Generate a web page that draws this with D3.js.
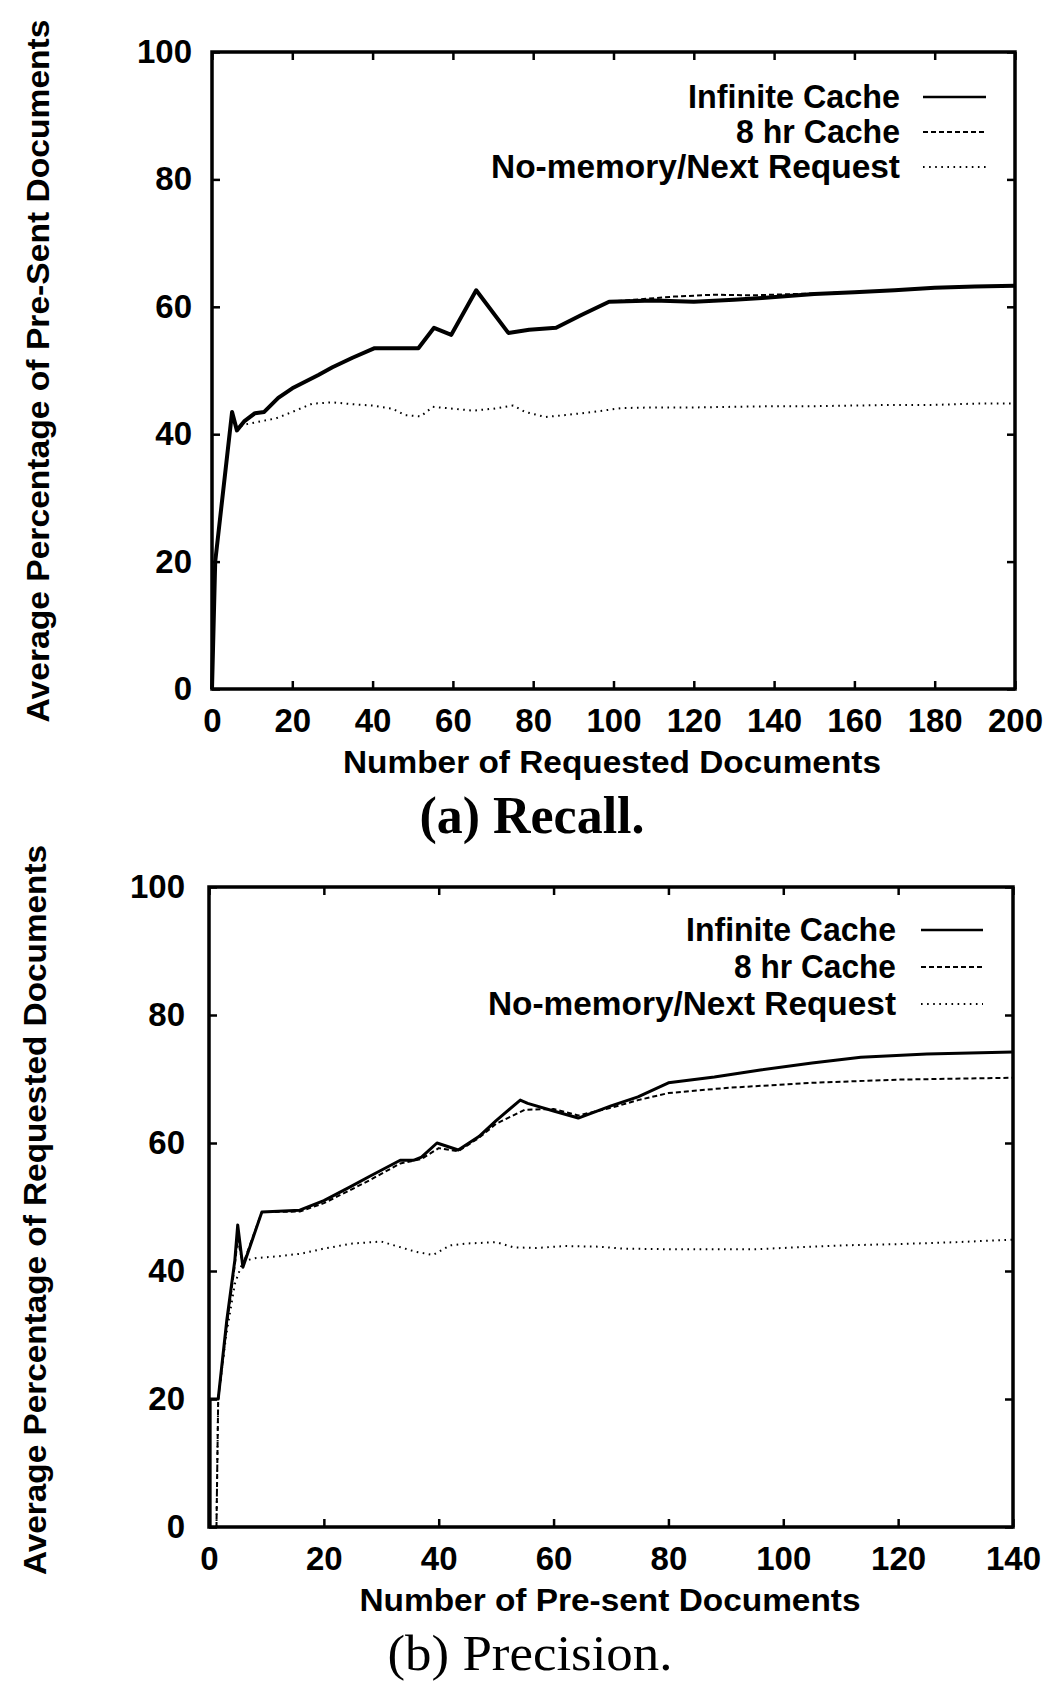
<!DOCTYPE html>
<html lang="en">
<head>
    <meta charset="UTF-8">
    <title>Recall and Precision</title>
    <script src="https://d3js.org/d3.v7.min.js"></script>
    <style>
        body { margin: 0; background: #fff; }
        svg { display: block; }
        .sans { font-family: "Liberation Sans", Arial, Helvetica, sans-serif; font-weight: bold; fill: #000; }
        .serif { font-family: "Liberation Serif", "Times New Roman", serif; fill: #000; }
    </style>
</head>
<body>
    <div id="container"></div>

    <script>
        // series labels
        const seriesNames = ["Infinite Cache", "8 hr Cache", "No-memory/Next Request"];

        // (a) Recall: [number of requested documents, average %]
        const recallInfinite = [
            [0, 0], [0.8, 20], [5, 43.5], [6.2, 40.6], [8, 42], [10.7, 43.3], [13, 43.5], [16.5, 45.7],
            [20, 47.2], [26.5, 49.3], [30, 50.5], [35, 52], [40.5, 53.5], [51.4, 53.5], [55.3, 56.7],
            [59.6, 55.6], [65.8, 62.6], [73.8, 55.9], [79, 56.4], [85.7, 56.7], [92, 58.7], [98.9, 60.8],
            [110, 61], [120, 60.8], [130, 61.1], [137, 61.4], [150, 62], [160, 62.3], [170, 62.6],
            [180, 63], [190, 63.2], [200, 63.3]
        ];
        const recall8hr = [
            [0, 0], [0.8, 20], [5, 43.5], [6.2, 40.6], [8, 42], [10.7, 43.3], [13, 43.5], [16.5, 45.7],
            [20, 47.2], [26.5, 49.3], [30, 50.5], [35, 52], [40.5, 53.5], [51.4, 53.5], [55.3, 56.7],
            [59.6, 55.6], [65.8, 62.6], [73.8, 55.9], [79, 56.4], [85.7, 56.7], [92, 58.7], [98.9, 60.8],
            [105, 61.1], [115, 61.6], [125, 61.9], [135, 61.8], [145, 62], [160, 62.3], [170, 62.6],
            [180, 63], [190, 63.2], [200, 63.3]
        ];
        const recallNoMemory = [
            [0, 0], [0.8, 20], [5, 43.5], [6.2, 41], [8, 41.5], [12, 42], [16, 42.5], [20, 43.5],
            [25, 44.8], [30, 45], [35, 44.7], [40, 44.5], [45, 44], [48, 43], [52, 42.8], [55, 44.3],
            [60, 44], [65, 43.7], [70, 44], [75, 44.5], [78, 43.5], [83, 42.7], [88, 43], [95, 43.5],
            [102, 44.1], [110, 44.2], [120, 44.2], [130, 44.3], [140, 44.4], [150, 44.4], [160, 44.5],
            [170, 44.6], [180, 44.6], [190, 44.8], [200, 44.8]
        ];

        // (b) Precision: [number of pre-sent documents, average %]
        const precisionInfinite = [
            [0.2, 0], [0.2, 20], [1.6, 20], [3.1, 32.3], [4.5, 41.7], [5, 47.2], [5.9, 40.6], [9.2, 49.2],
            [15.8, 49.5], [20, 51], [24.5, 53.1], [28, 54.8], [33.3, 57.3], [35.6, 57.3], [37, 57.8],
            [39.7, 60], [43.4, 58.9], [47, 61], [50, 63.5], [54.2, 66.7], [55.5, 66.2], [60, 65],
            [64.3, 63.9], [70, 65.8], [74.7, 67.2], [80, 69.4], [88, 70.3], [96, 71.4], [105, 72.5],
            [113.5, 73.4], [125, 73.9], [140, 74.2]
        ];
        const precision8hr = [
            [1.3, 0], [1.6, 20], [3.1, 31.5], [4.5, 41], [5, 45], [5.9, 41], [9.2, 49.2], [15.8, 49.3],
            [20, 50.6], [24.5, 52.6], [28, 54.2], [33.3, 56.8], [37, 57.5], [40, 59.2], [43.4, 58.7],
            [47, 60.8], [50, 63], [55, 65.2], [60, 65.3], [64.3, 64.3], [70, 65.5], [74.7, 66.7],
            [80, 67.8], [90, 68.6], [104.8, 69.4], [120, 69.9], [140, 70.2]
        ];
        const precisionNoMemory = [
            [1.3, 0], [1.6, 20], [3, 30], [4.5, 38], [5.9, 41.5], [8, 42], [12, 42.3], [16, 42.7],
            [20, 43.5], [25, 44.3], [30, 44.6], [33, 43.8], [36, 43], [39, 42.5], [42, 44], [45, 44.3],
            [50, 44.5], [53, 43.7], [57, 43.6], [62, 43.9], [68, 43.8], [72, 43.5], [80, 43.4],
            [88, 43.4], [95, 43.4], [100, 43.6], [110, 44], [120, 44.2], [130, 44.5], [140, 44.9]
        ];

        // ticks
        const yTicks = [0, 20, 40, 60, 80, 100];
        const recallXTicks = [0, 20, 40, 60, 80, 100, 120, 140, 160, 180, 200];
        const precisionXTicks = [0, 20, 40, 60, 80, 100, 120, 140];

        const width = 1056;
        const height = 1683;

        const svg = d3.select("#container").append("svg")
            .attr("width", width)
            .attr("height", height);

        const dashes = [null, "5,3", "1.6,4.5"];

        function drawPanel(p) {
            const x = d3.scaleLinear().domain(p.xDomain).range([p.left, p.right]);
            const y = d3.scaleLinear().domain([0, 100]).range([p.bottom, p.top]);
            const g = svg.append("g");

            // series
            const line = d3.line().x(d => x(d[0])).y(d => y(d[1]));
            p.series.forEach((s, i) => {
                g.append("path")
                    .datum(s)
                    .attr("d", line)
                    .attr("fill", "none")
                    .attr("stroke", "#000")
                    .attr("stroke-width", i === 0 ? p.mainWidth : 2)
                    .attr("stroke-linejoin", "round")
                    .attr("stroke-dasharray", dashes[i]);
            });

            // inward ticks on all four sides
            const tk = 8;
            g.append("g").attr("transform", `translate(0,${p.bottom})`)
                .call(d3.axisBottom(x).tickValues(p.xTicks).tickSize(-tk).tickPadding(20))
                .call(a => a.select(".domain").remove());
            g.append("g").attr("transform", `translate(0,${p.top})`)
                .call(d3.axisTop(x).tickValues(p.xTicks).tickSize(-tk).tickFormat(""))
                .call(a => a.select(".domain").remove());
            g.append("g").attr("transform", `translate(${p.left},0)`)
                .call(d3.axisLeft(y).tickValues(yTicks).tickSize(-tk).tickPadding(p.yPad))
                .call(a => a.select(".domain").remove());
            g.append("g").attr("transform", `translate(${p.right},0)`)
                .call(d3.axisRight(y).tickValues(yTicks).tickSize(-tk).tickFormat(""))
                .call(a => a.select(".domain").remove());

            g.selectAll(".tick line").attr("stroke", "#000").attr("stroke-width", 2.5);
            g.selectAll(".tick text")
                .attr("class", "sans")
                .style("font-size", "33px")
                .attr("fill", "#000");

            // frame
            g.append("rect")
                .attr("x", p.left).attr("y", p.top)
                .attr("width", p.right - p.left).attr("height", p.bottom - p.top)
                .attr("fill", "none").attr("stroke", "#000").attr("stroke-width", 3.5);

            // axis titles
            g.append("text").attr("class", "sans")
                .attr("x", p.xTitle[0]).attr("y", p.xTitle[1])
                .attr("text-anchor", "middle")
                .attr("textLength", p.xTitle[2]).attr("lengthAdjust", "spacingAndGlyphs")
                .style("font-size", "32px")
                .text(p.xLabel);
            g.append("text").attr("class", "sans")
                .attr("transform", `translate(${p.yTitle[0]},${p.yTitle[1]}) rotate(-90)`)
                .attr("text-anchor", "middle")
                .attr("textLength", p.yTitle[2]).attr("lengthAdjust", "spacingAndGlyphs")
                .style("font-size", "32px")
                .text(p.yLabel);

            // legend
            seriesNames.forEach((name, i) => {
                const ly = p.legend.y + i * p.legend.step;
                g.append("text").attr("class", "sans")
                    .attr("x", p.legend.x).attr("y", ly + 11)
                    .attr("text-anchor", "end")
                    .attr("textLength", p.legend.widths[i]).attr("lengthAdjust", "spacingAndGlyphs")
                    .style("font-size", "33px")
                    .text(name);
                g.append("line")
                    .attr("x1", p.legend.x0).attr("x2", p.legend.x1)
                    .attr("y1", ly).attr("y2", ly)
                    .attr("stroke", "#000")
                    .attr("stroke-width", i === 0 ? 2.5 : 2)
                    .attr("stroke-dasharray", dashes[i]);
            });

            // caption
            svg.append("text").attr("class", "serif")
                .attr("x", p.caption[0]).attr("y", p.caption[1])
                .attr("text-anchor", "middle")
                .attr("textLength", p.caption[2]).attr("lengthAdjust", "spacingAndGlyphs")
                .style("font-size", p.caption[3] + "px")
                .style("font-weight", p.captionBold ? "bold" : "normal")
                .text(p.captionText);
        }

        drawPanel({
            left: 212, right: 1015, top: 52, bottom: 689,
            xDomain: [0, 200], xTicks: recallXTicks, yPad: 20, mainWidth: 4,
            series: [recallInfinite, recall8hr, recallNoMemory],
            xLabel: "Number of Requested Documents", xTitle: [612, 773, 538],
            yLabel: "Average Percentage of Pre-Sent Documents", yTitle: [49, 371, 703],
            legend: { x: 900, y: 97, step: 35, x0: 923, x1: 986, widths: [212, 164, 409] },
            captionText: "(a) Recall.", caption: [532, 833, 225, 52], captionBold: true
        });

        drawPanel({
            left: 209, right: 1013, top: 887, bottom: 1527,
            xDomain: [0, 140], xTicks: precisionXTicks, yPad: 24, mainWidth: 3,
            series: [precisionInfinite, precision8hr, precisionNoMemory],
            xLabel: "Number of Pre-sent Documents", xTitle: [610, 1611, 501],
            yLabel: "Average Percentage of Requested Documents", yTitle: [46, 1210, 730],
            legend: { x: 896, y: 930, step: 37, x0: 921, x1: 983, widths: [210, 162, 408] },
            captionText: "(b) Precision.", caption: [530, 1670, 285, 50], captionBold: false
        });
    </script>
</body>
</html>
